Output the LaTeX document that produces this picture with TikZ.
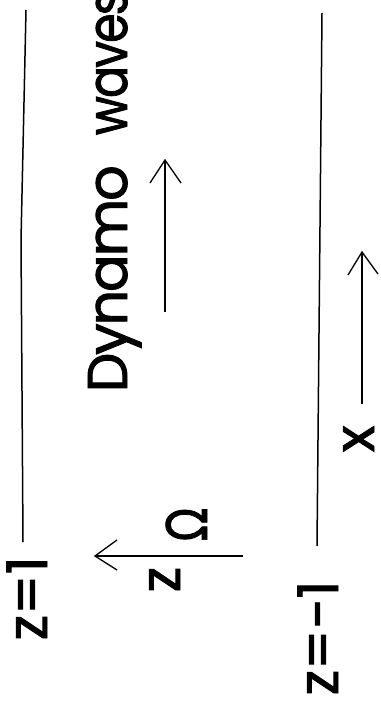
\documentclass[tikz,border=0pt]{standalone}
\usepackage{fontspec}
\setmainfont{Poppins}
\newfontfamily\lblfont{Poppins}[FakeBold=1.6]
\newfontfamily\tightfont{Poppins}[FakeBold=1.6,LetterSpace=-4]
\newfontfamily\greekfont{DejaVu Sans}[FakeBold=1.6]
\begin{document}
\begin{tikzpicture}[x=1pt,y=-1pt,line width=1.4pt,
  lbl/.style={rotate=90,anchor=base west,inner sep=0pt,font=\lblfont\fontsize{56}{60}\selectfont},
  wall/.style={line width=1.5pt},
  arr/.style={line width=1.3pt}]
\useasboundingbox (0,0) rectangle (380,711);
\clip (0,0) rectangle (380,711);
% walls
\coordinate (lt) at (26,10);
\coordinate (lm) at (21,240);
\coordinate (lb) at (23,542);
\coordinate (rt) at (322,13);
\coordinate (rb) at (317,546);
\draw[wall] (lt) -- (lm) -- (lb);
\draw[wall] (rt) -- (rb);
% labels
\node[lbl,font=\tightfont\fontsize{56}{60}\selectfont] (dyn) at (127,393) {Dynamo\hspace{30pt}\scalebox{0.85}[1]{waves}};
\node[lbl] (z1) at (47,641) {z=1};
\node[lbl] (zm1) at (338,696) {z=−1};
\node[lbl] (zl) at (180,593) {z};
\node[lbl] (xl) at (374,453) {x};
\node[lbl] (om) at (207,542) {\greekfont\scalebox{0.78}[1]{Ω}};
% dynamo arrow
\coordinate (da0) at (165,312);
\coordinate (da1) at (165,160);
\coordinate (daL) at (150,183);
\coordinate (daR) at (181,183);
\draw[arr] (da0) -- (da1);
\draw[arr] (daL) -- (da1) -- (daR);
% x arrow
\coordinate (xa0) at (362,404);
\coordinate (xa1) at (362,252);
\coordinate (xaL) at (348,275);
\coordinate (xaR) at (378,274);
\draw[arr] (xa0) -- (xa1);
\draw[arr] (xaL) -- (xa1) -- (xaR);
% z arrow
\coordinate (za0) at (243,556);
\coordinate (za1) at (95,556);
\coordinate (zaU) at (117,540);
\coordinate (zaD) at (117,570);
\draw[arr] (za0) -- (za1);
\draw[arr] (zaU) -- (za1) -- (zaD);
\end{tikzpicture}
\end{document}
